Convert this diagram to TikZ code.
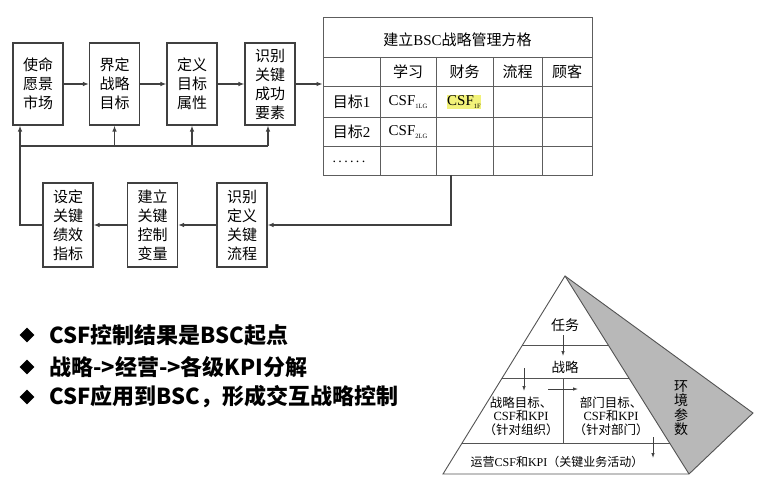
\documentclass[tikz,border=0pt]{standalone}
\usepackage{fontspec}
\setmainfont{Liberation Serif}
\newfontfamily\cjk{Noto Sans CJK SC}
\usetikzlibrary{arrows.meta,calc,shapes.geometric}
\definecolor{lnc}{HTML}{404040}
\definecolor{hl}{HTML}{F2F27A}
\begin{document}
\begin{tikzpicture}[x=1pt,y=-1pt,
  ln/.style={draw=lnc, line width=1.1pt},
  arr/.style={ln,-{Latex[length=6pt,width=4.5pt]}},
  parr/.style={draw=lnc, line width=0.8pt,-{Latex[length=5pt,width=3.5pt]}},
  tl/.style={draw=lnc!85, line width=0.9pt},
  pl/.style={draw=lnc!90, line width=0.9pt},
  box/.style={ln, fill=white, minimum width=50pt, inner sep=0pt, align=center, font=\cjk\fontsize{15}{19}\selectfont},
  tt/.style={inner sep=0pt, font=\fontsize{15}{15}\selectfont},
  pt/.style={inner sep=0pt, align=center, font=\fontsize{12.5}{13.5}\selectfont},
  bul/.style={diamond, fill=black, minimum size=15pt, inner sep=0pt},
  bt/.style={anchor=west, inner sep=0pt, font=\cjk\bfseries\fontsize{22}{22}\selectfont}]
\useasboundingbox (0,0) rectangle (770,489);
% top row
\node[box, minimum height=82pt] (b1) at (38,84) {使命\\愿景\\市场};
\node[box, minimum height=82pt] (b2) at (114.5,84) {界定\\战略\\目标};
\node[box, minimum height=82pt] (b3) at (192,84) {定义\\目标\\属性};
\node[box, minimum height=82pt] (b4) at (270,84) {识别\\关键\\成功\\要素};
% bottom row
\node[box, minimum height=84pt] (c1) at (68,225) {设定\\关键\\绩效\\指标};
\node[box, minimum height=84pt] (c2) at (152.5,225) {建立\\关键\\控制\\变量};
\node[box, minimum height=84pt] (c3) at (242,225) {识别\\定义\\关键\\流程};
% table
\node[tl, minimum width=269pt, minimum height=158pt, inner sep=0pt] (tbl) at (457.5,96) {};
\foreach \y in {57,86,117,146} \draw[tl] (323,\y) -- (592,\y);
\foreach \x in {380,436,493,542} \draw[tl] (\x,57) -- (\x,175);
\node[tt] (ttl) at (457.5,40) {{\cjk 建立}BSC{\cjk 战略管理方格}};
\node[tt, font=\cjk\fontsize{15}{15}\selectfont] (h1) at (408,72) {学习};
\node[tt, font=\cjk\fontsize{15}{15}\selectfont] (h2) at (464.5,72) {财务};
\node[tt, font=\cjk\fontsize{15}{15}\selectfont] (h3) at (517.5,72) {流程};
\node[tt, font=\cjk\fontsize{15}{15}\selectfont] (h4) at (567,72) {顾客};
\node[tt] (r1) at (351.5,102) {{\cjk 目标}1};
\node[tt] (r2) at (351.5,132) {{\cjk 目标}2};
\node[tt, font=\fontsize{14}{14}\selectfont] (r3) at (349,162) {.\,.\,.\,.\,.\,.};
\node[tt] (x11) at (408,102) {CSF\raisebox{-2.5pt}{\fontsize{6.5}{6.5}\selectfont 1LG}};
\node[tt, fill=hl, inner sep=0.6pt] (x12) at (464,102) {CSF\raisebox{-2.5pt}{\fontsize{6.5}{6.5}\selectfont 1F}};
\node[tt] (x21) at (408,132) {CSF\raisebox{-2.5pt}{\fontsize{6.5}{6.5}\selectfont 2LG}};
% connectors
\draw[arr] (b1) -- (b2);
\draw[arr] (b2) -- (b3);
\draw[arr] (b3) -- (b4);
\draw[arr] (b4.east) -- (b4.east -| tbl.west);
\coordinate (t1) at (451,175);
\draw[arr] (t1) |- (c3.east);
\draw[arr] (c3) -- (c2);
\draw[arr] (c2) -- (c1);
\coordinate (f0) at (20,146);
\coordinate (f4) at (268,146);
\draw[arr] (c1.west) -| ([xshift=-18pt]b1.south);
\draw[ln] (f0) -- (f4);
\draw[arr] (b2.south |- f0) -- (b2.south);
\draw[arr] (b3.south |- f0) -- (b3.south);
\draw[arr] (f4) -- (f4 |- b4.south);
% bullets
\node[bul] (d1) at (27,335) {};
\node[bul] (d2) at (27,367) {};
\node[bul] (d3) at (27,397) {};
\node[bt] (l1) at (49,335) {CSF控制结果是BSC起点};
\node[bt] (l2) at (49,367) {战略->经营->各级KPI分解};
\node[bt] (l3) at (49,397) {CSF应用到BSC，形成交互战略控制};
% pyramid
\coordinate (A) at (565,276);
\coordinate (BL) at (443,474);
\coordinate (BR) at (689,474);
\coordinate (G) at (753,413);
\fill[black!28] (A) -- (G) -- (BR) -- cycle;
\draw[pl] (A) -- (G) -- (BR) -- (BL) -- cycle;
\draw[pl] (A) -- (BR);
\foreach \t in {0.3485,0.5152,0.8434} \draw[pl] ($(A)!\t!(BL)$) -- ($(A)!\t!(BR)$);
\coordinate (dv1) at (563,378);
\coordinate (dv2) at (563,443);
\draw[pl] (dv1) -- (dv2);
\node[pt, font=\cjk\fontsize{14}{14}\selectfont] (p1) at (565,325) {任务};
\node[pt, font=\cjk\fontsize{13.5}{14}\selectfont] (p2) at (565,367) {战略};
\node[pt] (p3) at (521,416) {{\cjk 战略目标、}\\CSF{\cjk 和}KPI\\{\cjk （针对组织）}};
\node[pt] (p4) at (611,416) {{\cjk 部门目标、}\\CSF{\cjk 和}KPI\\{\cjk （针对部门）}};
\node[pt, font=\fontsize{12}{12}\selectfont] (p5) at (557,462) {{\cjk 运营}CSF{\cjk 和}KPI{\cjk （关键业务活动）}};
\node[pt, font=\cjk\fontsize{14}{14.5}\selectfont] (p6) at (681,408) {环\\境\\参\\数};
\coordinate (a1s) at (563,335); \coordinate (a1e) at (563,356);
\coordinate (a2s) at (524,368); \coordinate (a2e) at (524,391);
\coordinate (a3s) at (548,389); \coordinate (a3e) at (578,389);
\coordinate (a4s) at (653,437); \coordinate (a4e) at (653,458);
\draw[parr] (a1s) -- (a1e);
\draw[parr] (a2s) -- (a2e);
\draw[parr] (a3s) -- (a3e);
\draw[parr] (a4s) -- (a4e);
\end{tikzpicture}
\end{document}
